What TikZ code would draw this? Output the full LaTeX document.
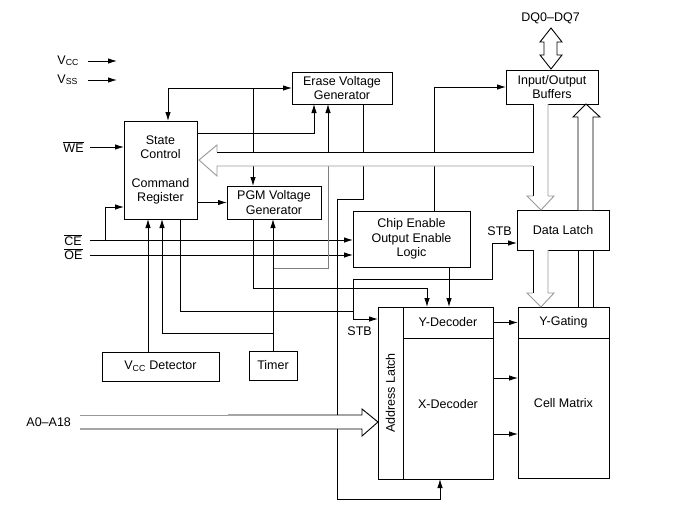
\documentclass[tikz,border=0pt]{standalone}
\usepackage{fontspec}
\setmainfont{Liberation Sans}
\usetikzlibrary{arrows.meta}

\tikzset{
  >={Latex[length=9pt,width=5.5pt]},
  blk/.style={draw, fill=white, anchor=north west, inner sep=0pt, outer sep=0pt, align=center},
  lbl/.style={anchor=base west, inner sep=0pt},
  busline/.style={draw=gray!80},
}

\begin{document}
\begin{tikzpicture}[x=1pt, y=-1pt, line width=0.9pt, font=\fontsize{12.5}{14.5}\selectfont]
	\useasboundingbox (0,0) rectangle (673,506);

	% blocks
	\node[blk, minimum width=73pt, minimum height=98pt] (state) at (124,121) {State\\Control\\[14pt]Command\\Register};
	\node[blk, minimum width=100pt, minimum height=32pt] (erase) at (292,72) {Erase Voltage\\Generator};
	\node[blk, minimum width=94pt, minimum height=33pt] (pgm) at (227,186) {PGM Voltage\\Generator};
	\node[blk, minimum width=92pt, minimum height=34pt] (io) at (506,70) {Input/Output\\Buffers};
	\node[blk, minimum width=92pt, minimum height=40pt] (latch) at (517,210) {Data Latch};
	\node[blk, minimum width=117pt, minimum height=56pt] (chip) at (353,211) {Chip Enable\\Output Enable\\Logic};
	\node[blk, minimum width=25pt, minimum height=172pt] (addr) at (378,307) {};
	\node[rotate=90] (addrtxt) at (addr.center) {Address Latch};
	\node[blk, minimum width=90pt, minimum height=31pt] (ydec) at (403,307) {Y-Decoder};
	\node[blk, minimum width=90pt, minimum height=141pt] (xdec) at (403,338) {\raisebox{10pt}{X-Decoder}};
	\node[blk, minimum width=91pt, minimum height=31pt] (ygate) at (518,307) {Y-Gating};
	\node[blk, minimum width=91pt, minimum height=140pt] (cell) at (518,338) {\raisebox{10pt}{Cell Matrix}};
	\node[blk, minimum width=117pt, minimum height=29pt] (vccdet) at (102,352) {V\textsubscript{CC} Detector};
	\node[blk, minimum width=48pt, minimum height=29pt] (timer) at (249,351) {Timer};

	% pin labels
	\node[lbl] (vcc) at (57,64) {V\textsubscript{CC}};
	\node[lbl] (vss) at (57,83) {V\textsubscript{SS}};
	\node[lbl] (we) at (63,152) {$\overline{\mbox{WE}}$};
	\node[lbl] (ce) at (64,245) {$\overline{\mbox{CE}}$};
	\node[lbl] (oe) at (64,259) {$\overline{\mbox{OE}}$};
	\node[lbl] (addrin) at (26,426) {A0–A18};
	\node[lbl] (dq) at (521,21) {DQ0–DQ7};
	\node[lbl] (stba) at (487,235) {STB};
	\node[lbl] (stbb) at (347,335) {STB};

	% free ends
	\coordinate (vccS) at (88,61);
	\coordinate (vssS) at (88,80);
	\coordinate (weS) at (90,147);
	\coordinate (ceS) at (90,240);
	\coordinate (oeS) at (90,255);
	\coordinate (ceJ) at (105,240);
	\coordinate (busT) at (0,152);
	\coordinate (busB) at (0,166);
	\coordinate (y268) at (0,268);
	\coordinate (y288) at (0,288);
	\coordinate (y333) at (0,333);
	\coordinate (stbJ) at (353,311);
	\coordinate (stbT) at (353,279);
	\coordinate (stbR) at (492,279);
	\coordinate (erL) at (337,199);
	\coordinate (erB) at (337,499);

	\draw[->] (vccS) -- ++(29,0);
	\draw[->] (vssS) -- ++(29,0);
	\draw[->] (weS) -- (weS -| state.west);
	\draw[->] (ceS) -- (ceS -| chip.west);
	\draw[->] (oeS) -- (oeS -| chip.west);
	\draw[->] (ceJ) |- ([yshift=12pt]state.south west);

	% state control and voltage generators
	\draw[<->] (erase.west) -| ([xshift=44pt]state.north west);
	\coordinate (pgmIn) at ([xshift=26pt]pgm.north west);
	\draw[->] (pgmIn |- erase.west) -- (pgmIn);
	\draw[->] ([yshift=-12pt]state.north east) -| ([xshift=22pt]erase.south west);
	\coordinate (erIn) at ([xshift=36pt]erase.south west);
	\draw[->] (erIn |- busT) -- (erIn);
	\draw[gray] (erIn |- busB) |- (timer.north |- y268);
	\draw[->] (state.east |- pgm.west) -- (pgm.west);

	% detector and timer
	\coordinate (vdN) at ([xshift=46pt]vccdet.north west);
	\draw[->] (vdN) -- (vdN |- state.south);
	\coordinate (stIn) at ([xshift=38pt]state.south west);
	\draw[->] (timer.north) |- (stIn |- y333) -- (stIn);
	\draw[->] (timer.north) -- (timer.north |- pgm.south);

	% strobes
	\coordinate (stOut) at ([xshift=56pt]state.south west);
	\draw (stOut) |- (stbJ);
	\draw[->] (stbT) |- ([yshift=-12pt]addr.north west);
	\draw[->] (stbT) -- (stbR) |- ([yshift=7pt]latch.south west);

	% decoders
	\coordinate (pgmOut) at ([xshift=26pt]pgm.south west);
	\coordinate (ydIn) at ([xshift=24pt]ydec.north west);
	\draw[->] (pgmOut) |- (ydIn |- y288) -- (ydIn);
	\coordinate (chOut) at ([xshift=96pt]chip.south west);
	\draw[->] (chOut) -- (chOut |- ydec.north);
	\draw[->] ([xshift=81pt]chip.north west) |- (io.west);
	\coordinate (erOut) at ([xshift=71pt]erase.south west);
	\draw[->] (erOut) |- (erL) -- (erB) -| ([xshift=37pt]xdec.south west);
	\draw[->] (ydec.east) -- (ygate.west);
	\coordinate (xa) at ([yshift=30.5pt]xdec.east);
	\coordinate (xb) at ([yshift=-25.5pt]xdec.east);
	\draw[->] (xa) -- (xa -| cell.west);
	\draw[->] (xb) -- (xb -| cell.west);

	% data bus from buffers
	\fill[white] (533,104) -- (533,152) -- (217,152) -- (217,145) -- (199,160) -- (217,176) --
		(217,166) -- (533,166) -- (533,196) -- (527,196) -- (541,210) -- (554,196) --
		(548,196) -- (548,104) -- cycle;
	\draw (533,104) -- (533,152) -- (217,152);
	\draw[busline] (217,152) -- (217,145) -- (199,160) -- (217,176) -- (217,166) -- (533,166);
	\draw (533,166) -- (533,196);
	\draw[busline] (533,196) -- (527,196) -- (541,210) -- (554,196) -- (548,196) -- (548,104);

	% latch to gating
	\fill[white] (533,250) -- (533,293) -- (527,293) -- (541,307) -- (554,293) -- (548,293) -- (548,250) -- cycle;
	\draw (533,250) -- (533,293);
	\draw[busline] (533,293) -- (527,293) -- (541,307) -- (554,293) -- (548,293) -- (548,250);

	% gating to buffers
	\draw (578,307) -- (578,250);
	\draw (593,307) -- (593,250);
	\filldraw[fill=white] (578,210) -- (578,117) -- (573,117) -- (586,104) -- (600,117) -- (593,117) -- (593,210);

	% DQ pins
	\filldraw[fill=white] (544,42) -- (540,42) -- (551,28) -- (562,42) -- (557,42) -- (557,55) --
		(562,55) -- (551,69) -- (540,55) -- (544,55) -- cycle;

	% address bus
	\fill[white] (80,415) -- (362,415) -- (362,409) -- (378,422) -- (362,436) -- (362,429) -- (80,429) -- cycle;
	\draw[busline] (80,415) -- (228,415);
	\draw (228,415) -- (362,415) -- (362,409) -- (378,422) -- (362,436) -- (362,429) -- (80,429);
\end{tikzpicture}
\end{document}
